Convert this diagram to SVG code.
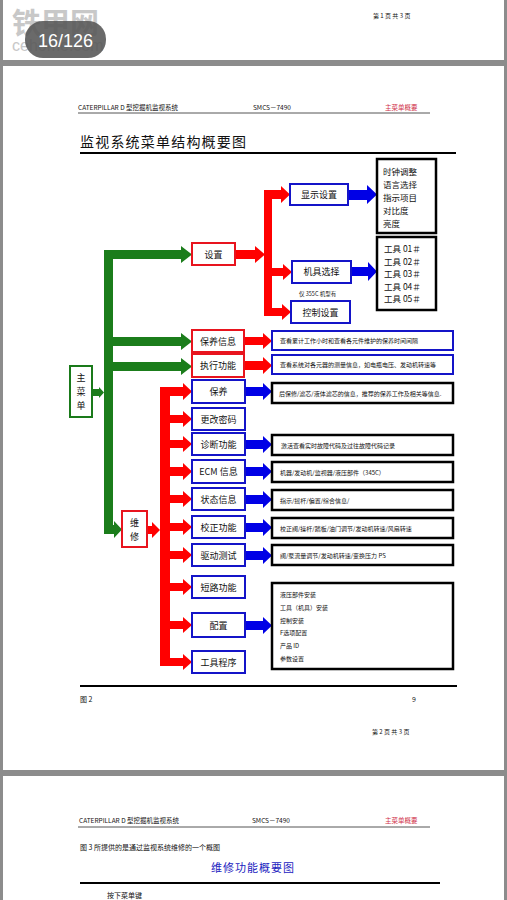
<svg xmlns="http://www.w3.org/2000/svg" width="507" height="900" viewBox="0 0 507 900">
<style>
text{font-family:"Noto Sans CJK SC","Liberation Sans",sans-serif;fill:#111}
.hd{font-size:6.5px}
.lb{font-size:9px;text-anchor:middle}
.ds{font-size:6px}
.li{font-size:8.5px}
.rb{fill:#fff;stroke:#e8141e;stroke-width:2}
.bb{fill:#fff;stroke:#1414c8;stroke-width:2}
.kb{fill:#fff;stroke:#000;stroke-width:2.5}
.gb{fill:#fff;stroke:#1a7a1a;stroke-width:2}
.g{fill:#1b7d1b}
.r{fill:#ff0000}
.b{fill:#0000e6}
</style>
<rect x="0" y="0" width="507" height="900" fill="#fff"/>
<!-- page frame -->
<rect x="0" y="60" width="507" height="6" fill="#8c8c8c"/>
<rect x="0" y="770" width="507" height="6" fill="#8c8c8c"/>
<rect x="0" y="0" width="3" height="900" fill="#8c8c8c"/>
<rect x="504" y="0" width="3" height="900" fill="#8c8c8c"/>
<!-- top page -->
<text x="373" y="18" class="hd" style="font-size:6px">第 1 页  共 3 页</text>
<text x="12" y="34" style="font-size:29px;fill:#c8c8c8;font-weight:bold">铁甲网</text>
<text x="12" y="51" style="font-size:16px;fill:#c8c8c8;font-family:'Liberation Sans',sans-serif">cehome.com</text>
<rect x="25" y="21" width="81" height="37" rx="18" fill="#555" opacity="0.88"/>
<text x="65.5" y="47" style="font-size:18px;fill:#fff;text-anchor:middle;font-family:'Liberation Sans',sans-serif">16/126</text>
<!-- header -->
<text x="78" y="110" class="hd">CATERPILLAR   D 型挖掘机监视系统</text>
<text x="253" y="110" class="hd">SMCS－7490</text>
<text x="385" y="110" class="hd" style="fill:#d0304a">主菜单概要</text>
<line x1="78" y1="113" x2="430" y2="113" stroke="#555" stroke-width="1"/>
<text x="80" y="147" style="font-size:14px;letter-spacing:1.2px">监视系统菜单结构概要图</text>
<line x1="80" y1="153" x2="456" y2="153" stroke="#000" stroke-width="2"/>

<!-- connectors -->
<g id="connectors">
  <!-- green -->
  <rect class="g" x="104" y="250" width="9" height="283"/>
  <polygon class="g" points="104,250 181,250 181,246 192,254.5 181,263 181,259 104,259"/>
  <polygon class="g" points="104,337 181,337 181,333 192,341.5 181,350 181,346 104,346"/>
  <polygon class="g" points="104,362 181,362 181,358 192,366.5 181,375 181,371 104,371"/>
  <polygon class="g" points="104,525 114,525 114,521 122,529.5 114,538 114,534 104,534"/>
  <polygon class="g" points="92,389 99,389 99,387 104,392.5 99,398 99,396 92,396"/>
  <!-- red upper -->
  <polygon class="r" points="235,250 255,250 255,246 265,254.5 255,263 255,259 235,259"/>
  <rect class="r" x="264" y="190" width="8" height="126"/>
  <polygon class="r" points="264,190 281,190 281,186 290,194.5 281,203 281,199 264,199"/>
  <polygon class="r" points="264,268 283,268 283,264 292,272 283,280 283,276 264,276"/>
  <polygon class="r" points="264,308 282,308 282,304 291,312 282,320 282,316 264,316"/>
  <polygon class="r" points="244,337 263,337 263,333 272,341 263,349 263,345 244,345"/>
  <polygon class="r" points="244,361 263,361 263,357 272,365.5 263,374 263,370 244,370"/>
  <!-- blue upper -->
  <polygon class="b" points="348,190 367,190 367,185 377,194.5 367,204 367,200 348,200"/>
  <polygon class="b" points="351,267 368,267 368,262 377,271.5 368,281 368,276 351,276"/>
  <!-- red lower -->
  <polygon class="r" points="147,526 152,526 152,522 160,530 152,538 152,534 147,534"/>
  <rect class="r" x="160" y="387" width="10" height="279"/>
  <polygon class="r" points="160,387 183,387 183,383 192,391.5 183,400 183,396 160,396"/>
  <polygon class="r" points="160,415 183,415 183,411 192,419 183,427 183,423 160,423"/>
  <polygon class="r" points="160,440 183,440 183,436 192,444 183,452 183,448 160,448"/>
  <polygon class="r" points="160,467 183,467 183,463 192,471.5 183,480 183,476 160,476"/>
  <polygon class="r" points="160,495 183,495 183,491 192,499 183,507 183,503 160,503"/>
  <polygon class="r" points="160,523 183,523 183,519 192,527 183,535 183,531 160,531"/>
  <polygon class="r" points="160,551 183,551 183,547 192,555 183,563 183,559 160,559"/>
  <polygon class="r" points="160,583 183,583 183,579 192,587 183,595 183,591 160,591"/>
  <polygon class="r" points="160,621 183,621 183,617 192,625 183,633 183,629 160,629"/>
  <polygon class="r" points="160,658 183,658 183,654 192,662 183,670 183,666 160,666"/>
  <!-- blue lower -->
  <polygon class="b" points="245,387 263,387 263,383 272,391.5 263,400 263,396 245,396"/>
  <polygon class="b" points="245,440 263,440 263,436 272,444.5 263,453 263,449 245,449"/>
  <polygon class="b" points="245,467 263,467 263,463 272,471.5 263,480 263,476 245,476"/>
  <polygon class="b" points="245,495 263,495 263,491 272,499.5 263,508 263,504 245,504"/>
  <polygon class="b" points="245,523 263,523 263,519 272,527.5 263,536 263,532 245,532"/>
  <polygon class="b" points="245,551 263,551 263,547 272,555.5 263,564 263,560 245,560"/>
  <polygon class="b" points="245,621 263,621 263,617 272,625.5 263,634 263,630 245,630"/>
</g>

<!-- nodes -->
<g id="n-main"><rect class="gb" x="70" y="366" width="22" height="51"/>
  <text x="81" y="381" class="lb">主</text><text x="81" y="395" class="lb">菜</text><text x="81" y="409" class="lb">单</text></g>
<g id="n-set"><rect class="rb" x="192" y="243" width="43" height="22"/><text x="213.5" y="257.5" class="lb">设置</text></g>
<g id="n-disp"><rect class="bb" x="290" y="184" width="58" height="21"/><text x="319" y="198" class="lb">显示设置</text></g>
<g id="n-disp-list"><rect class="kb" x="377" y="159" width="59" height="74"/>
  <text x="383" y="175" class="li">时钟调整</text><text x="383" y="188" class="li">语言选择</text><text x="383" y="201" class="li">指示项目</text><text x="383" y="214" class="li">对比度</text><text x="383" y="227" class="li">亮度</text></g>
<g id="n-tool"><rect class="bb" x="292" y="261" width="59" height="22"/><text x="321.5" y="275" class="lb">机具选择</text></g>
<text x="299" y="296" style="font-size:5.5px">仅 355C 机型有</text>
<g id="n-tool-list"><rect class="kb" x="377" y="237" width="59" height="73"/>
  <text x="384" y="252" class="li">工具 01＃</text><text x="384" y="265" class="li">工具 02＃</text><text x="384" y="277" class="li">工具 03＃</text><text x="384" y="290" class="li">工具 04＃</text><text x="384" y="302" class="li">工具 05＃</text></g>
<g id="n-ctrl"><rect class="bb" x="291" y="301" width="59" height="22"/><text x="320.5" y="315.5" class="lb">控制设置</text></g>
<g id="n-maint-info"><rect class="rb" x="192" y="330" width="52" height="22"/><text x="218" y="344.5" class="lb">保养信息</text></g>
<g id="n-maint-info-d"><rect class="bb" x="272" y="331" width="181" height="19"/><text x="280" y="343" class="ds">查看累计工作小时和查看各元件维护的保养时间间隔</text></g>
<g id="n-exec"><rect class="rb" x="192" y="354" width="52" height="23"/><text x="218" y="369" class="lb">执行功能</text></g>
<g id="n-exec-d"><rect class="bb" x="272" y="355" width="181" height="19"/><text x="280" y="367" class="ds">查看系统对各元器的测量信息，如电瓶电压、发动机转速等</text></g>
<g id="n-repair"><rect class="rb" x="122" y="511" width="25" height="36"/>
  <text x="134.5" y="526" class="lb">维</text><text x="134.5" y="540" class="lb">修</text></g>

<g id="n-s1"><rect class="bb" x="192" y="380" width="53" height="23"/><text x="218.5" y="395" class="lb">保养</text></g>
<g id="n-s1d"><rect class="kb" x="272" y="383" width="181" height="20"/><text x="279" y="395.5" class="ds">后保修/滤芯/液体滤芯的信息，推荐的保养工作及相关等信息.</text></g>
<g id="n-s2"><rect class="bb" x="192" y="408" width="53" height="22"/><text x="218.5" y="422.5" class="lb">更改密码</text></g>
<g id="n-s3"><rect class="bb" x="192" y="433" width="53" height="22"/><text x="218.5" y="447.5" class="lb">诊断功能</text></g>
<g id="n-s3d"><rect class="kb" x="272" y="435" width="181" height="20"/><text x="281" y="447.5" class="ds">激活查看实时故障代码及过往故障代码记录</text></g>
<g id="n-s4"><rect class="bb" x="192" y="460" width="53" height="23"/><text x="218.5" y="475" class="lb">ECM 信息</text></g>
<g id="n-s4d"><rect class="kb" x="272" y="462" width="181" height="20"/><text x="280" y="474.5" class="ds">机器/发动机/监视器/液压部件（345C）</text></g>
<g id="n-s5"><rect class="bb" x="192" y="488" width="53" height="22"/><text x="218.5" y="502.5" class="lb">状态信息</text></g>
<g id="n-s5d"><rect class="kb" x="272" y="490" width="181" height="20"/><text x="280" y="502.5" class="ds">指示/摇杆/偏置/综合信息/</text></g>
<g id="n-s6"><rect class="bb" x="192" y="516" width="53" height="22"/><text x="218.5" y="530.5" class="lb">校正功能</text></g>
<g id="n-s6d"><rect class="kb" x="272" y="518" width="181" height="20"/><text x="280" y="530.5" class="ds">校正阀/操杆/踏板/油门调节/发动机转速/风扇转速</text></g>
<g id="n-s7"><rect class="bb" x="192" y="544" width="53" height="22"/><text x="218.5" y="558.5" class="lb">驱动测试</text></g>
<g id="n-s7d"><rect class="kb" x="272" y="545" width="181" height="20"/><text x="280" y="557.5" class="ds">阀/泵流量调节/发动机转速/变换压力 PS</text></g>
<g id="n-s8"><rect class="bb" x="192" y="576" width="53" height="22"/><text x="218.5" y="590.5" class="lb">短路功能</text></g>
<g id="n-s9"><rect class="bb" x="192" y="613" width="53" height="24"/><text x="218.5" y="628.5" class="lb">配置</text></g>
<g id="n-s9d"><rect class="kb" x="272" y="583" width="181" height="86"/>
  <text x="280" y="597" class="ds">液压部件安装</text><text x="280" y="609.5" class="ds">工具（机具）安装</text><text x="280" y="622.5" class="ds">控制安装</text><text x="280" y="635" class="ds">F选项配置</text><text x="280" y="648" class="ds">产品 ID</text><text x="280" y="661" class="ds">参数设置</text></g>
<g id="n-s10"><rect class="bb" x="192" y="651" width="53" height="22"/><text x="218.5" y="665.5" class="lb">工具程序</text></g>

<!-- footer -->
<line x1="80" y1="686" x2="457" y2="686" stroke="#000" stroke-width="2"/>
<text x="80" y="702" class="hd" style="font-size:7px">图 2</text>
<text x="412" y="702" class="hd" style="font-size:7px">9</text>
<text x="372" y="734" class="hd" style="font-size:6px">第 2 页  共 3 页</text>

<!-- page 3 -->
<text x="79" y="823" class="hd">CATERPILLAR   D 型挖掘机监视系统</text>
<text x="252" y="823" class="hd">SMCS－7490</text>
<text x="385" y="823" class="hd" style="fill:#d0304a">主菜单概要</text>
<line x1="78" y1="827" x2="430" y2="827" stroke="#555" stroke-width="1"/>
<text x="80" y="850" style="font-size:7px">图 3 所提供的是通过监视系统维修的一个概图</text>
<text x="253" y="872" style="font-size:11px;fill:#2222c0;text-anchor:middle;letter-spacing:1px">维修功能概要图</text>
<line x1="80" y1="883" x2="440" y2="883" stroke="#000" stroke-width="2"/>
<text x="107" y="898" style="font-size:7px">按下菜单键</text>
</svg>
